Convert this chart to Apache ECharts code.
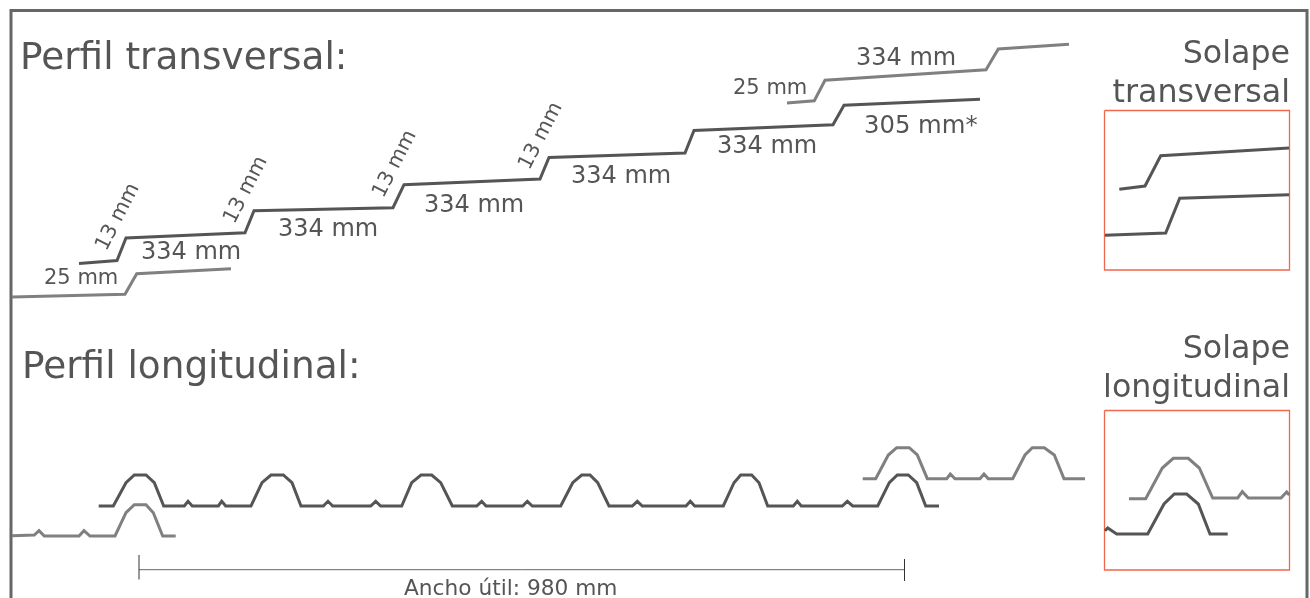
<!DOCTYPE html>
<html><head><meta charset="utf-8">
<style>html,body{margin:0;padding:0;background:#fff}#c{width:1310px;height:598px}</style>
<script src="https://cdn.jsdelivr.net/npm/echarts@6/dist/echarts.min.js"></script>
</head><body><div id="c"></div>
<script>
const frame=[[11,598],[11,10.5],[1307,10.5],[1307,598]];
const stepsTopDark=[[79,263.5],[117,260.5],[126,238],[245,232.7],[254,210.7],[393,207.7],[404,184.7],[540,179],[549,157.5],[685,153],[694,130.5],[833,124.7],[844,105.3],[980,99.3]];
const stepsBottomLight=[[12,297],[125,294.3],[136.7,273.7],[231,268.7]];
const stepsTopLight=[[787,103],[814.3,100.7],[825,80.3],[986,69.7],[998.3,49],[1069,44.3]];
const insetStepsUpper=[[1119.3,189.3],[1145,186],[1160.7,155.7],[1289,148]];
const insetStepsLower=[[1105,235.3],[1165.7,233],[1179.7,198.3],[1289,194.7]];
const ribsDark=[[98.7,506],[113.3,506],[126,482.7],[134.3,475],[146,475],[154.3,482.7],[163.7,506],[184.3,506],[188,501.3],[192.3,506],[218.3,506],[221.7,501.3],[225.7,506],[251,506],[262,482.7],[271,475],[283.3,475],[292,482.7],[301,506],[323.3,506],[328,501.3],[332.7,506],[370.7,506],[375.7,501.3],[380.7,506],[401.7,506],[411.7,482.7],[421,475],[431.7,475],[440.7,482.7],[452.3,506],[476.7,506],[481.7,501.3],[486,506],[522.7,506],[527.3,501.3],[532.3,506],[560.7,506],[572.7,482.7],[581.7,475],[590,475],[597.7,482.7],[609,506],[632.3,506],[637.3,501.3],[642.3,506],[686,506],[690.3,501.3],[694.7,506],[723.3,506],[734,482.7],[740.7,475],[751.7,475],[759,482.7],[767.7,506],[793.3,506],[797.3,501.3],[801.3,506],[842.3,506],[847.3,501.3],[852.7,506],[877.7,506],[889.3,482.7],[897.3,475],[908.3,475],[916.7,482.7],[925.7,506],[939,506]];
const ribsLightRight=[[862.7,478.7],[875.7,478.7],[888.3,455],[896.7,447.7],[909.3,447.7],[917.3,455],[927.3,478.7],[946.7,478.7],[950.3,474],[955,478.7],[980,478.7],[984,474],[988.3,478.7],[1012.7,478.7],[1025,455],[1032.3,447.7],[1044.3,447.7],[1054.3,455],[1064,478.7],[1085,478.7]];
const ribsLightLeft=[[12,535.7],[34.3,535],[39,530.7],[44.3,536],[79,536],[84,530.7],[90,536],[115,536],[126,512.7],[134.3,504.7],[146,504.7],[153.3,512.7],[162.7,536],[175.7,536]];
const insetRibsLight=[[1129,498.7],[1145.7,498.7],[1162.3,468],[1173.3,458.3],[1188.3,458.3],[1199.3,468],[1212.7,498],[1237.7,498],[1242.3,491.7],[1248.3,498],[1281,498],[1286.7,492],[1289.3,495]];
const insetRibsDark=[[1105,530.7],[1107.7,528],[1116.7,534],[1147.7,534],[1164,504],[1174.3,494],[1186.7,494],[1198.3,504],[1210,534],[1227.7,534]];
const box1=[[1104.5,110.5],[1289.5,110.5],[1289.5,270],[1104.5,270],[1104.5,110.5]];
const box2=[[1104.5,410.5],[1289.5,410.5],[1289.5,570],[1104.5,570],[1104.5,410.5]];
const dimLine=[[139,569.7],[904.5,569.7]];
const dimTickL=[[139,555],[139,579.5]];
const dimTickR=[[904.5,559],[904.5,581]];

const DARK='#555555',LIGHT='#808080',RED='#f0674c',TXT='#555555';
const line=(name,data,color,width)=>({name,type:'line',data,symbol:'none',silent:true,animation:false,clip:false,
  lineStyle:{color,width,cap:'butt',join:'miter'}});
const txt=(text,x,y,size,align)=>({type:'text',x,y:y-size*0.3,
  style:{text,fill:TXT,font:size+'px "DejaVu Sans"',textAlign:align||'left',textVerticalAlign:'middle'}});
const rot=(text,x,y,size,deg)=>({type:'text',x,y,rotation:deg*Math.PI/180,
  style:{text,fill:TXT,font:size+'px "DejaVu Sans"',textAlign:'center',textVerticalAlign:'middle'}});
const chart=echarts.init(document.getElementById('c'),null,{renderer:'canvas',width:1310,height:598});
chart.setOption({
  backgroundColor:'#fff',animation:false,
  grid:{left:0,right:0,top:0,bottom:0},
  xAxis:{type:'value',min:0,max:1310,show:false},
  yAxis:{type:'value',min:0,max:598,inverse:true,show:false},
  series:[
    line('frame',frame,'#666666',3),
    line('box1',box1,RED,1.3),line('box2',box2,RED,1.3),
    line('dim',dimLine,'#666666',1),line('dimL',dimTickL,'#333333',1),line('dimR',dimTickR,'#333333',1),
    line('a',stepsTopDark,DARK,3),line('b',stepsBottomLight,LIGHT,3),line('c',stepsTopLight,LIGHT,3),
    line('d',insetStepsUpper,DARK,3),line('e',insetStepsLower,DARK,3),
    line('f',ribsDark,DARK,3),line('g',ribsLightRight,LIGHT,3),line('h',ribsLightLeft,LIGHT,3),
    line('i',insetRibsLight,LIGHT,3),line('j',insetRibsDark,DARK,3)
  ],
  graphic:[
    txt('Perfil transversal:',20,71,37.4),
    txt('Perfil longitudinal:',22,380,37.4),
    txt('Solape',1290,64.5,31.7,'right'),txt('transversal',1290,103.5,31.7,'right'),
    txt('Solape',1290,359.5,31.7,'right'),txt('longitudinal',1290,398.5,31.7,'right'),
    txt('334 mm',141,260,24),txt('334 mm',278,237,24),txt('334 mm',424,213,24),
    txt('334 mm',571,183.5,24),txt('334 mm',717,154,24),txt('334 mm',856,66,24),
    txt('305 mm*',864,134,24.3),
    txt('25 mm',44,285,21),txt('25 mm',733,95,21),
    rot('13 mm',118,217,20.5,63),rot('13 mm',246,190,20.5,63),
    rot('13 mm',395,164,20.5,63),rot('13 mm',541,136,20.5,63),
    txt('Ancho útil: 980 mm',404,596,21.7)
  ]
});
</script></body></html>
